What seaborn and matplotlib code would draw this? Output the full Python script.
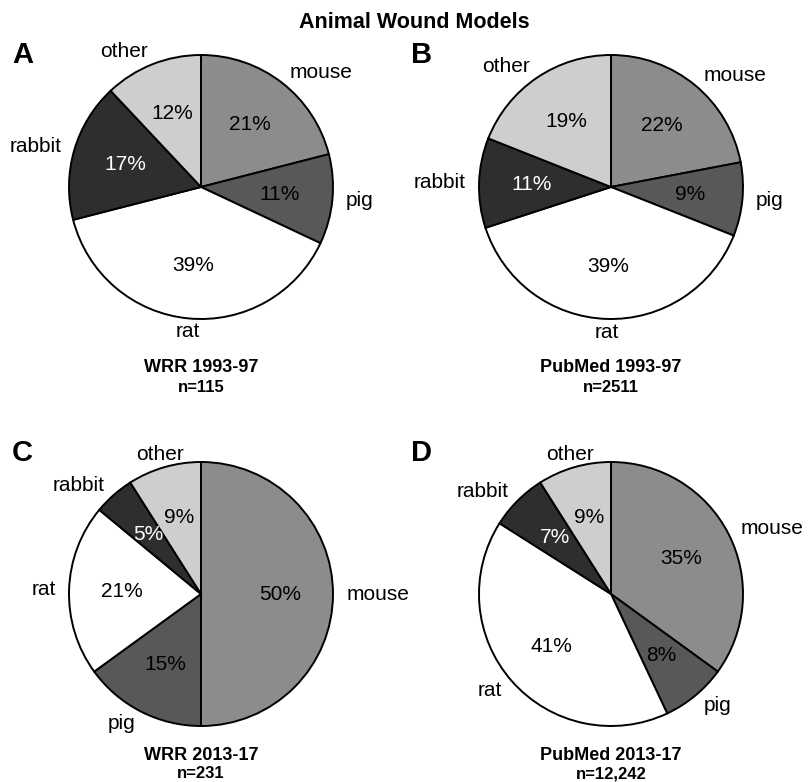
import numpy as np
import matplotlib
matplotlib.use("Agg")
import matplotlib.pyplot as plt
import seaborn as sns

# data
animals = ["mouse", "pig", "rat", "rabbit", "other"]
wrr_1993 = [21, 11, 39, 17, 12]
pubmed_1993 = [22, 9, 39, 11, 19]
wrr_2013 = [50, 15, 21, 5, 9]
pubmed_2013 = [35, 8, 41, 7, 9]

panel_letters = ["A", "B", "C", "D"]
panel_titles = ["WRR 1993-97", "PubMed 1993-97", "WRR 2013-17", "PubMed 2013-17"]
panel_n = ["n=115", "n=2511", "n=231", "n=12,242"]

greys = ["#8c8c8c", "#585858", "#ffffff", "#2e2e2e", "#cecece"]
pct_colors = ["black", "black", "black", "white", "black"]

sns.set_theme(style="white")
plt.rcParams['font.family'] = ['Liberation Sans', 'DejaVu Sans']
plt.rcParams['text.color'] = 'black'

W, H = 808, 782
fig = plt.figure(figsize=(W / 100, H / 100), dpi=100)

# pie centres / radius in pixels
centres = [(201, 187), (611, 187), (201, 594), (611, 594)]
R = 132
LIM = 1.5

def px(x, y):
    return x / W, 1 - y / H

all_data = [wrr_1993, pubmed_1993, wrr_2013, pubmed_2013]

for i, vals in enumerate(all_data):
    cx, cy = centres[i]
    half = LIM * R
    ax = fig.add_axes([(cx - half) / W, 1 - (cy + half) / H, 2 * half / W, 2 * half / H])
    wedges, texts, autotexts = ax.pie(
        vals, labels=animals, colors=greys, startangle=90, counterclock=False,
        autopct=lambda p: f"{p:.0f}%", pctdistance=0.6, labeldistance=1.1,
        wedgeprops=dict(edgecolor="black", linewidth=1.4),
        textprops=dict(fontsize=15, color="black"))
    for w, t in zip(wedges, texts):
        mid = np.deg2rad((w.theta1 + w.theta2) / 2)
        if abs(np.cos(mid)) < 0.35:
            t.set_ha("center")
    for at, c in zip(autotexts, pct_colors):
        at.set_color(c)
    ax.set_xlim(-LIM, LIM)
    ax.set_ylim(-LIM, LIM)
    ax.axis("off")

    # panel letter
    lx = 12 if i % 2 == 0 else 411
    ly = 55 if i < 2 else 453
    fig.text(*px(lx, ly), panel_letters[i], fontsize=21, fontweight="bold",
             ha="left", va="center")
    # subtitle
    sy = 368 if i < 2 else 755
    fig.text(*px(cx, sy), panel_titles[i], fontsize=13, fontweight="bold",
             ha="center", va="center")
    fig.text(*px(cx, sy + 19), panel_n[i], fontsize=12, fontweight="bold",
             ha="center", va="center")

fig.text(*px(414, 23), "Animal Wound Models", fontsize=15.5, fontweight="bold",
         ha="center", va="center")

fig.savefig("out.png", dpi=100)
